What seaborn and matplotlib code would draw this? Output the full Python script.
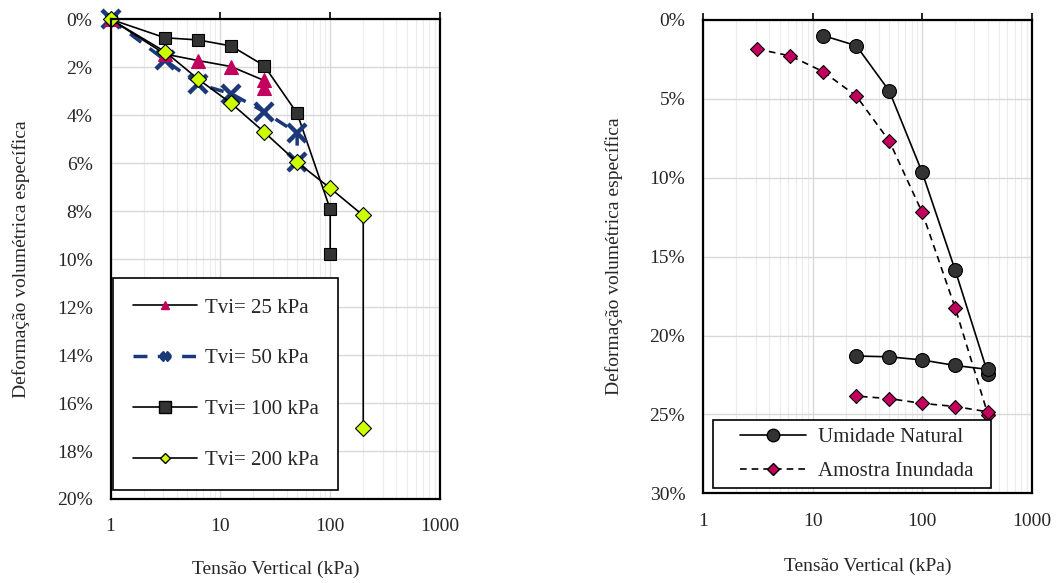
import matplotlib
matplotlib.use("Agg")
import matplotlib.pyplot as plt
import pandas as pd
import seaborn as sns
from matplotlib.ticker import PercentFormatter, FixedLocator, LogLocator, NullFormatter, FuncFormatter
from matplotlib.lines import Line2D
from matplotlib.legend_handler import HandlerLine2D

sns.set_theme(style="white")
plt.rcParams['font.family'] = ['Liberation Serif', 'DejaVu Serif']

# Left panel: volumetric strain (%) vs vertical stress (kPa) for each Tvi
tvi25_stress = [1, 3.125, 6.25, 12.5, 25, 25]
tvi25_strain = [0, 1.45, 1.72, 1.97, 2.55, 2.85]
tvi50_stress = [1, 3.125, 6.25, 12.5, 25, 50, 50]
tvi50_strain = [0, 1.70, 2.70, 3.10, 3.85, 4.75, 5.95]
tvi100_stress = [1, 3.125, 6.25, 12.5, 25, 50, 100, 100]
tvi100_strain = [0, 0.77, 0.86, 1.11, 1.93, 3.92, 7.92, 9.78]
tvi200_stress = [1, 3.125, 6.25, 12.5, 25, 50, 100, 200, 200]
tvi200_strain = [0, 1.35, 2.49, 3.50, 4.70, 5.96, 7.04, 8.18, 17.04]

# Right panel: natural moisture vs flooded sample (loading then unloading)
natural_stress = [12.5, 25, 50, 100, 200, 400, 400, 200, 100, 50, 25]
natural_strain = [0.99, 1.63, 4.50, 9.66, 15.85, 22.45, 22.15, 21.90, 21.55, 21.35, 21.30]
flooded_stress = [3.125, 6.25, 12.5, 25, 50, 100, 200, 400, 400, 200, 100, 50, 25]
flooded_strain = [1.84, 2.28, 3.28, 4.82, 7.67, 12.20, 18.24, 25.04, 24.84, 24.50, 24.30, 24.00, 23.84]

left_labels = ["Tvi= 25 kPa", "Tvi= 50 kPa", "Tvi= 100 kPa", "Tvi= 200 kPa"]
right_labels = ["Umidade Natural", "Amostra Inundada"]
x_ticks = [1, 10, 100, 1000]
left_y_ticks = [0, 2, 4, 6, 8, 10, 12, 14, 16, 18, 20]
right_y_ticks = [0, 5, 10, 15, 20, 25, 30]

xlabel = "Tensão Vertical (kPa)"
ylabel = "Deformação volumétrica específica"

PINK = "#C4005E"
NAVY = "#1B3878"
DARK = "#333333"
LIME = "#CCFF00"

FS = 14
LEG_FS = 15

fig = plt.figure(figsize=(10.64, 5.83), dpi=100)
axL = fig.add_axes([0.104, 0.1441, 0.3095, 0.8228])
axR = fig.add_axes([0.661, 0.1539, 0.3086, 0.8118])


def draw(ax, xs, ys, **kw):
    df = pd.DataFrame({"x": xs, "y": ys})
    sns.lineplot(data=df, x="x", y="y", sort=False, estimator=None, ax=ax,
                 clip_on=False, **kw)


# Left panel series
draw(axL, tvi100_stress, tvi100_strain, color="black", lw=1.2, marker="s",
     markersize=9, markerfacecolor=DARK, markeredgecolor="black", markeredgewidth=0.8)
draw(axL, tvi50_stress, tvi50_strain, color=NAVY, lw=2.5, linestyle=(0, (4, 3)),
     marker="x", markersize=13, markeredgecolor=NAVY, markeredgewidth=3.2)
draw(axL, tvi25_stress, tvi25_strain, color="black", lw=1.2, marker="^",
     markersize=10, markerfacecolor=PINK, markeredgecolor=PINK, markeredgewidth=0.8)
draw(axL, tvi200_stress, tvi200_strain, color="black", lw=1.2, marker="D",
     markersize=8, markerfacecolor=LIME, markeredgecolor="black", markeredgewidth=0.8)

# Right panel series
draw(axR, natural_stress, natural_strain, color="black", lw=1.2, marker="o",
     markersize=10, markerfacecolor=DARK, markeredgecolor="black", markeredgewidth=0.8)
draw(axR, flooded_stress, flooded_strain, color="black", lw=1.2, linestyle=(0, (4, 3)),
     marker="D", markersize=7.5, markerfacecolor=PINK, markeredgecolor="black",
     markeredgewidth=0.8)


def style_axis(ax, yticks, ymax, xlabelpad):
    ax.set_xscale("log")
    ax.set_xlim(1, 1000)
    ax.set_ylim(ymax, 0)
    ax.xaxis.set_major_locator(FixedLocator(x_ticks))
    ax.xaxis.set_minor_locator(LogLocator(base=10, subs=range(2, 10)))
    ax.xaxis.set_minor_formatter(NullFormatter())
    ax.xaxis.set_major_formatter(FuncFormatter(lambda v, p: f"{v:g}"))
    ax.yaxis.set_major_locator(FixedLocator(yticks))
    ax.yaxis.set_major_formatter(PercentFormatter(xmax=100, decimals=0))
    ax.grid(True, which="major", color="#d9d9d9", lw=1.0)
    ax.grid(True, which="minor", axis="x", color="#ececec", lw=0.8)
    ax.set_axisbelow(True)
    for s in ax.spines.values():
        s.set_color("black")
        s.set_linewidth(1.6)
        s.set_visible(True)
    ax.tick_params(axis="x", which="major", top=True, bottom=False, labeltop=False,
                   labelbottom=True, direction="out", length=5, width=1.2,
                   color="black", labelsize=FS, pad=9)
    ax.tick_params(axis="x", which="minor", top=False, bottom=False)
    ax.tick_params(axis="y", which="major", left=False, length=0, labelsize=FS, pad=13)
    ax.set_xlabel(xlabel, fontsize=FS, labelpad=xlabelpad)
    ax.set_ylabel(ylabel, fontsize=FS, labelpad=19)


style_axis(axL, left_y_ticks, 20, 18)
style_axis(axR, right_y_ticks, 30, 20)

# Legends
left_handles = [
    Line2D([], [], color="black", lw=1.2, marker="^", markersize=6,
           markerfacecolor=PINK, markeredgecolor=PINK),
    Line2D([], [], color=NAVY, lw=2.5, linestyle=(0, (4, 3)), marker="X",
           markersize=7, markerfacecolor=NAVY, markeredgecolor=NAVY),
    Line2D([], [], color="black", lw=1.2, marker="s", markersize=8,
           markerfacecolor=DARK, markeredgecolor="black"),
    Line2D([], [], color="black", lw=1.2, marker="D", markersize=5,
           markerfacecolor=LIME, markeredgecolor="black"),
]
legL = axL.legend(left_handles, left_labels, loc="lower left",
                  bbox_to_anchor=(0.007, 0.019), borderaxespad=0, fontsize=LEG_FS,
                  frameon=True, fancybox=False, edgecolor="black", framealpha=1,
                  labelspacing=1.5, handlelength=3.1, handletextpad=0.35,
                  borderpad=0.95)
legL.get_frame().set_linewidth(1.2)

right_handles = [
    Line2D([], [], color="black", lw=1.2, marker="o", markersize=9,
           markerfacecolor=DARK, markeredgecolor="black"),
    Line2D([], [], color="black", lw=1.2, linestyle=(0, (4, 3)), marker="D",
           markersize=6, markerfacecolor=PINK, markeredgecolor="black"),
]
legR = axR.legend(right_handles, right_labels, loc="lower left", mode="expand",
                  bbox_to_anchor=(0.029, 0.0106, 0.846, 0.14), borderaxespad=0,
                  fontsize=LEG_FS, frameon=True, fancybox=False, edgecolor="black",
                  framealpha=1, labelspacing=0.7, handlelength=4.1,
                  handletextpad=0.58, borderpad=0.35,
                  handler_map={Line2D: HandlerLine2D(xpad=0.96)})
legR.get_frame().set_linewidth(1.2)

fig.savefig("out.png", dpi=100, facecolor="white")
